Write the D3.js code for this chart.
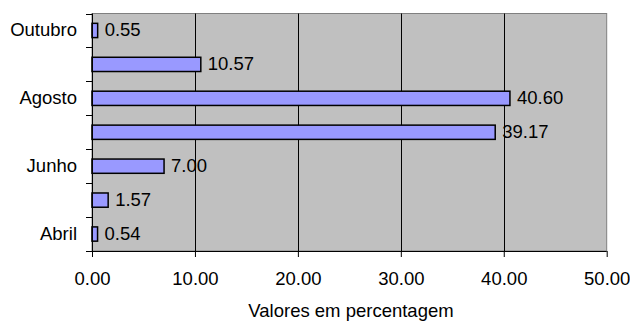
<!DOCTYPE html>
<html>
<head>
<meta charset="utf-8">
<script src="https://cdn.jsdelivr.net/npm/d3@7"></script>
<style>
  html, body { margin: 0; padding: 0; background: #ffffff; }
  svg { display: block; }
  text { font-family: "Liberation Sans", Arial, sans-serif; font-size: 18.5px; fill: #000; }
</style>
</head>
<body>
<svg id="chart" width="630" height="321"></svg>
<script>
// Monthly share (%), bottom to top
const months = ["Abril", "Maio", "Junho", "Julho", "Agosto", "Setembro", "Outubro"];
const shownMonths = ["Abril", "Junho", "Agosto", "Outubro"];
const values = [0.54, 1.57, 7.00, 39.17, 40.60, 10.57, 0.55];
const xTicks = [0, 10, 20, 30, 40, 50];
const xTitle = "Valores em percentagem";

const svg = d3.select("#chart");
const plot = { left: 92, right: 606.7, top: 13.5, bottom: 251 };

const x = d3.scaleLinear().domain([0, 50]).range([plot.left, plot.right]);

// Outer bands (tick boundaries) and inner bands (bars)
const yBand = d3.scaleBand().domain(months.slice().reverse())
  .range([plot.top, plot.bottom]).padding(0);
const yBar = d3.scaleBand().domain(months.slice().reverse())
  .range([plot.top, plot.bottom]).paddingInner(0.58).paddingOuter(0.29);

// Plot area background
svg.append("rect")
  .attr("x", plot.left).attr("y", plot.top)
  .attr("width", plot.right - plot.left).attr("height", plot.bottom - plot.top)
  .attr("fill", "#c0c0c0").attr("stroke", "#808080").attr("stroke-width", 1);

// Vertical gridlines
svg.append("g").selectAll("line")
  .data(xTicks.filter(t => t > 0 && t < 50))
  .join("line")
  .attr("x1", d => Math.round(x(d)) + 0.5).attr("x2", d => Math.round(x(d)) + 0.5)
  .attr("y1", plot.top).attr("y2", plot.bottom)
  .attr("stroke", "#000").attr("stroke-width", 1);

// Bars
const data = months.map((m, i) => ({ month: m, value: values[i] }));
svg.append("g").selectAll("rect")
  .data(data)
  .join("rect")
  .attr("x", x(0))
  .attr("y", d => yBar(d.month))
  .attr("width", d => x(d.value) - x(0))
  .attr("height", yBar.bandwidth())
  .attr("fill", "#9999ff")
  .attr("stroke", "#000")
  .attr("stroke-width", 1.5);

// Value labels
svg.append("g").selectAll("text")
  .data(data)
  .join("text")
  .attr("x", d => x(d.value) + 7)
  .attr("y", d => yBar(d.month) + yBar.bandwidth() / 2 + 5.5)
  .text(d => d.value.toFixed(2));

// Bottom axis
const xAxis = d3.axisBottom(x).tickValues(xTicks).tickFormat(d3.format(".2f"))
  .tickSize(6).tickSizeOuter(0).tickPadding(15);
const gx = svg.append("g").attr("transform", `translate(0,${plot.bottom})`).call(xAxis);
gx.select(".domain").remove();
gx.append("line").attr("x1", plot.left - 6).attr("x2", plot.right)
  .attr("y1", 0.5).attr("y2", 0.5).attr("stroke", "#000");
gx.selectAll(".tick line").attr("stroke", "#000");
gx.selectAll(".tick text")
  .attr("font-family", "Liberation Sans, Arial, sans-serif")
  .attr("font-size", "18.5px").attr("fill", "#000");

// Left axis with ticks at category boundaries
const gy = svg.append("g");
gy.append("line").attr("x1", plot.left + 0.5).attr("x2", plot.left + 0.5)
  .attr("y1", plot.top).attr("y2", plot.bottom + 6).attr("stroke", "#000");
const bounds = months.slice().reverse().map(m => yBand(m)).concat([plot.bottom]);
gy.selectAll("line.tk").data(bounds).join("line").attr("class", "tk")
  .attr("x1", plot.left - 6).attr("x2", plot.left)
  .attr("y1", d => Math.round(d) + 0.5).attr("y2", d => Math.round(d) + 0.5)
  .attr("stroke", "#000");

// Category labels (every other month)
gy.selectAll("text").data(shownMonths).join("text")
  .attr("x", 77)
  .attr("y", d => yBand(d) + yBand.bandwidth() / 2 + 5.5)
  .attr("text-anchor", "end")
  .text(d => d);

// Axis title
svg.append("text")
  .attr("x", 351).attr("y", 316.5)
  .attr("text-anchor", "middle")
  .text(xTitle);
</script>
</body>
</html>
